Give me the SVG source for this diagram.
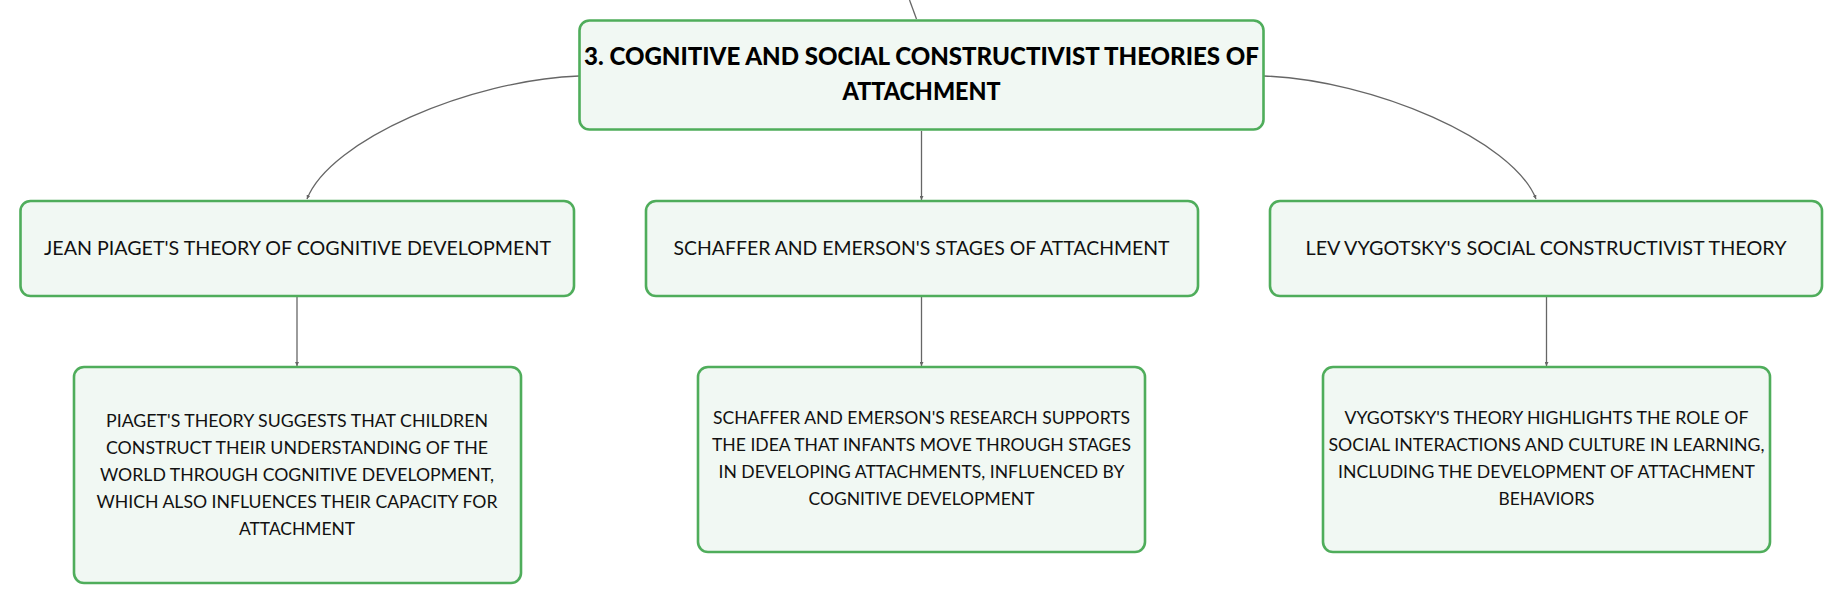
<svg xmlns="http://www.w3.org/2000/svg" width="1844" height="605" viewBox="0 0 1844 605">
<style>
.box{fill:#f1f8f3;stroke:#4fad5b;stroke-width:2.6}
.con{fill:none;stroke:#666;stroke-width:1.3}
.t{font-family:Lato,"Noto Sans","Liberation Sans",sans-serif;fill:#111;text-anchor:middle}
.root{font-size:24px;font-weight:900;fill:#000}
.child{font-size:20px}
.leaf{font-size:17.5px}
</style>
<defs>
<marker id="ah" viewBox="0 0 6 6" refX="6" refY="3" markerWidth="4" markerHeight="4" markerUnits="userSpaceOnUse" orient="auto">
<path d="M0,0 L6,3 L0,6 z" fill="#666"/>
</marker>
</defs>
<rect width="1844" height="605" fill="#fff"/>
<g id="connectors">
<path class="con" d="M909.5,0 L916.5,19"/>
<path class="con" d="M579,76 C470,80 330,140 307,199" marker-end="url(#ah)"/>
<path class="con" d="M921.5,131 L921.5,200" marker-end="url(#ah)"/>
<path class="con" d="M1264,76 C1373,80 1513,140 1536,199" marker-end="url(#ah)"/>
<path class="con" d="M297,297 L297,366" marker-end="url(#ah)"/>
<path class="con" d="M921.5,297 L921.5,366" marker-end="url(#ah)"/>
<path class="con" d="M1546.5,297 L1546.5,366" marker-end="url(#ah)"/>
</g>
<g id="root">
<rect class="box" x="579.5" y="20.5" width="684" height="109" rx="10"/>
<text class="t root" x="921.5" y="65" textLength="675" lengthAdjust="spacingAndGlyphs">3. COGNITIVE AND SOCIAL CONSTRUCTIVIST THEORIES OF</text>
<text class="t root" x="921.5" y="100" textLength="158" lengthAdjust="spacingAndGlyphs">ATTACHMENT</text>
</g>
<g id="piaget">
<rect class="box" x="20.5" y="201" width="553.5" height="95" rx="10"/>
<text class="t child" x="297.5" y="254.5" textLength="507" lengthAdjust="spacingAndGlyphs">JEAN PIAGET'S THEORY OF COGNITIVE DEVELOPMENT</text>
</g>
<g id="schaffer">
<rect class="box" x="646" y="201" width="552" height="95" rx="10"/>
<text class="t child" x="921.5" y="254.5" textLength="496" lengthAdjust="spacingAndGlyphs">SCHAFFER AND EMERSON'S STAGES OF ATTACHMENT</text>
</g>
<g id="vygotsky">
<rect class="box" x="1270" y="201" width="552" height="95" rx="10"/>
<text class="t child" x="1546" y="254.5" textLength="481" lengthAdjust="spacingAndGlyphs">LEV VYGOTSKY'S SOCIAL CONSTRUCTIVIST THEORY</text>
</g>
<g id="piaget-detail">
<rect class="box" x="74" y="367" width="447" height="216" rx="10"/>
<text class="t leaf" x="297" y="427" textLength="382" lengthAdjust="spacingAndGlyphs">PIAGET'S THEORY SUGGESTS THAT CHILDREN</text>
<text class="t leaf" x="297" y="454" textLength="382" lengthAdjust="spacingAndGlyphs">CONSTRUCT THEIR UNDERSTANDING OF THE</text>
<text class="t leaf" x="297" y="481" textLength="394" lengthAdjust="spacingAndGlyphs">WORLD THROUGH COGNITIVE DEVELOPMENT,</text>
<text class="t leaf" x="297" y="508" textLength="401" lengthAdjust="spacingAndGlyphs">WHICH ALSO INFLUENCES THEIR CAPACITY FOR</text>
<text class="t leaf" x="297" y="535" textLength="116" lengthAdjust="spacingAndGlyphs">ATTACHMENT</text>
</g>
<g id="schaffer-detail">
<rect class="box" x="698" y="367" width="447" height="185" rx="10"/>
<text class="t leaf" x="921.5" y="424" textLength="417" lengthAdjust="spacingAndGlyphs">SCHAFFER AND EMERSON'S RESEARCH SUPPORTS</text>
<text class="t leaf" x="921.5" y="451" textLength="419" lengthAdjust="spacingAndGlyphs">THE IDEA THAT INFANTS MOVE THROUGH STAGES</text>
<text class="t leaf" x="921.5" y="478" textLength="406" lengthAdjust="spacingAndGlyphs">IN DEVELOPING ATTACHMENTS, INFLUENCED BY</text>
<text class="t leaf" x="921.5" y="505" textLength="226" lengthAdjust="spacingAndGlyphs">COGNITIVE DEVELOPMENT</text>
</g>
<g id="vygotsky-detail">
<rect class="box" x="1323" y="367" width="447" height="185" rx="10"/>
<text class="t leaf" x="1546.5" y="424" textLength="404" lengthAdjust="spacingAndGlyphs">VYGOTSKY'S THEORY HIGHLIGHTS THE ROLE OF</text>
<text class="t leaf" x="1546.5" y="451" textLength="436" lengthAdjust="spacingAndGlyphs">SOCIAL INTERACTIONS AND CULTURE IN LEARNING,</text>
<text class="t leaf" x="1546.5" y="478" textLength="417" lengthAdjust="spacingAndGlyphs">INCLUDING THE DEVELOPMENT OF ATTACHMENT</text>
<text class="t leaf" x="1546.5" y="505" textLength="96" lengthAdjust="spacingAndGlyphs">BEHAVIORS</text>
</g>
</svg>
